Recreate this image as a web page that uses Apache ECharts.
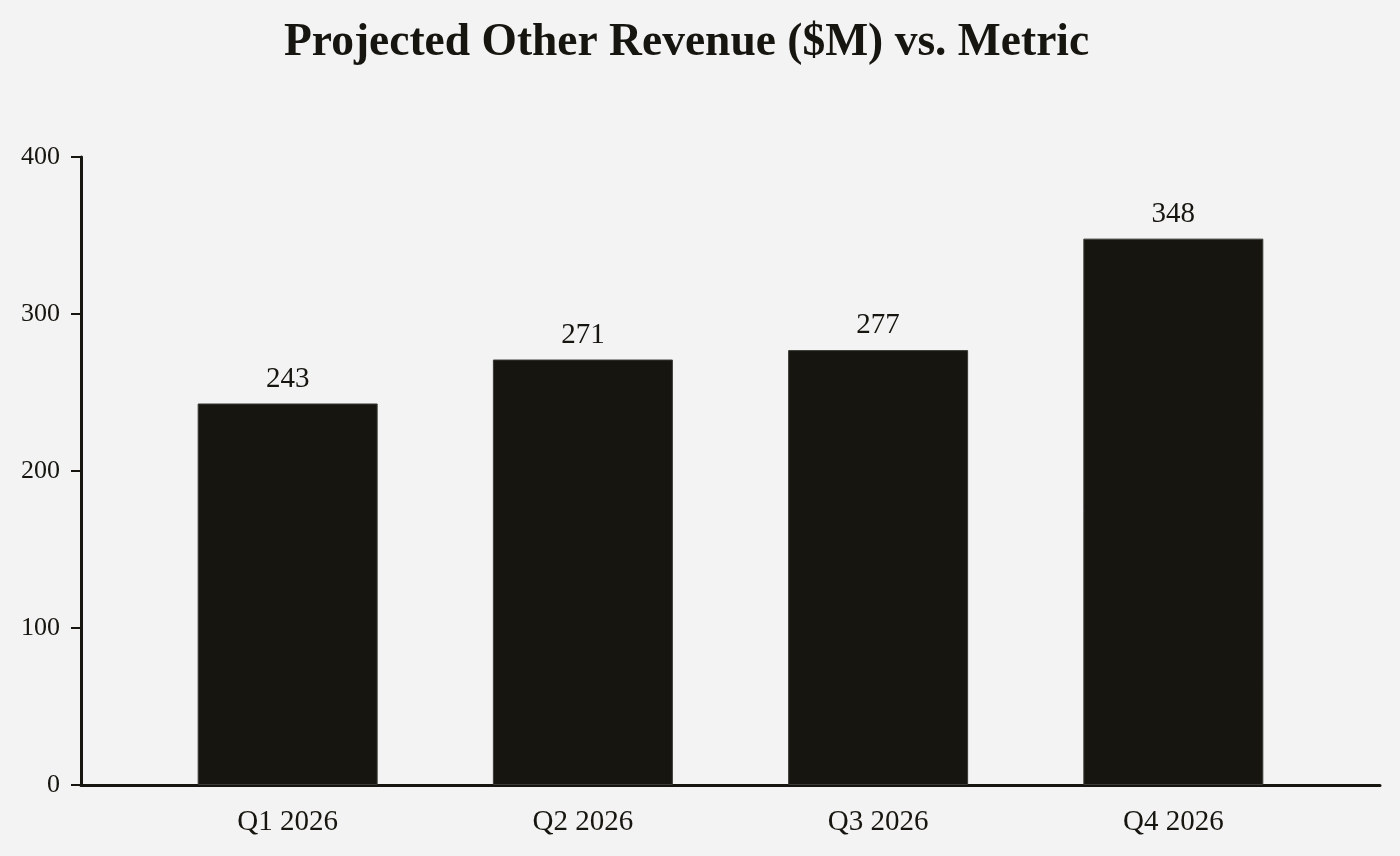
<!DOCTYPE html>
<html><head><meta charset="utf-8">
<script src="https://cdn.jsdelivr.net/npm/echarts@6/dist/echarts.min.js"></script>
<style>html,body{margin:0;padding:0;background:#f3f3f3;}#c{width:1400px;height:856px;}</style>
</head><body><div id="c"></div>
<script>
const categories = ['Q1 2026', 'Q2 2026', 'Q3 2026', 'Q4 2026'];
const values = [243, 271, 277, 348];
const yTicks = [0, 100, 200, 300, 400];

const chart = echarts.init(document.getElementById('c'));
const font = '"Liberation Serif", "DejaVu Serif", serif';
chart.setOption({
  backgroundColor: '#f3f3f3',
  animation: false,
  title: {
    text: 'Projected Other Revenue ($M) vs. Metric',
    left: 279, top: 15,
    textStyle: { fontFamily: font, fontSize: 45.5, fontWeight: 'bold', color: '#16150f' }
  },
  grid: { left: 81, right: 20, top: 157, bottom: 71, containLabel: false },
  xAxis: {
    type: 'value', min: -0.7, max: 3.7,
    splitLine: { show: false },
    axisLine: { show: true, onZero: false, lineStyle: { color: '#16150f', width: 3 } },
    axisTick: { show: false },
    axisLabel: {
      customValues: categories.map((c, i) => i),
      formatter: v => categories[Math.round(v)] || '',
      fontFamily: font, fontSize: 29, color: '#16150f', margin: 23
    }
  },
  yAxis: {
    type: 'value', min: yTicks[0], max: yTicks[yTicks.length - 1], interval: 100,
    splitLine: { show: false },
    axisLine: { show: true, onZero: false, lineStyle: { color: '#16150f', width: 3 } },
    axisTick: { show: true, length: 10, lineStyle: { color: '#16150f', width: 2 } },
    axisLabel: { fontFamily: font, fontSize: 26, color: '#16150f', margin: 21 }
  },
  series: [{
    type: 'bar',
    data: values.map((v, i) => [i, v]),
    barWidth: 180,
    itemStyle: { color: '#16150f', borderColor: '#3a3a36', borderWidth: 1 },
    label: {
      show: true, position: 'top', distance: 10,
      formatter: p => p.value[1],
      fontFamily: font, fontSize: 29, color: '#16150f'
    }
  }]
});
</script></body></html>
